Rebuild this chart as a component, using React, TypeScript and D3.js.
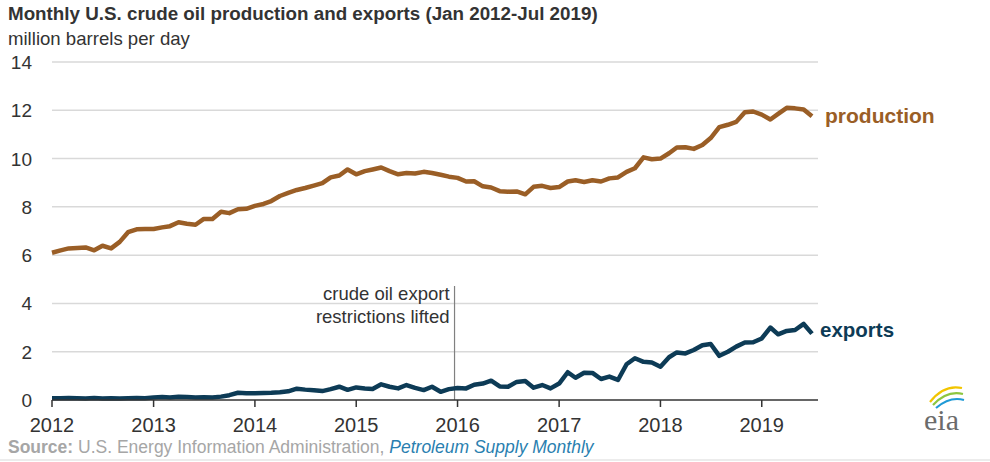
import * as d3 from "d3";

const W = 990;
const H = 462;
const FONT = "'Liberation Sans', Arial, Helvetica, sans-serif";

const START = new Date(2012, 0, 1);
const END = new Date(2019, 6, 1);
const months = d3.timeMonth.range(START, new Date(2019, 7, 1)); // Jan 2012 - Jul 2019

const production = [
  6.1, 6.2, 6.28, 6.3, 6.32, 6.2, 6.39, 6.28, 6.55, 6.95, 7.07, 7.08,
  7.08, 7.15, 7.2, 7.36, 7.3, 7.26, 7.5, 7.5, 7.8, 7.74, 7.9, 7.92,
  8.04, 8.12, 8.24, 8.45, 8.58, 8.7, 8.78, 8.88, 8.98, 9.22, 9.3, 9.55,
  9.35, 9.48, 9.55, 9.63, 9.48, 9.35, 9.4, 9.38, 9.45, 9.4, 9.33, 9.25,
  9.2, 9.05, 9.06, 8.85, 8.8, 8.65, 8.63, 8.64, 8.52, 8.83, 8.87, 8.78,
  8.82, 9.05, 9.1, 9.03, 9.1, 9.05, 9.18, 9.22, 9.45, 9.6, 10.05, 9.97,
  10.0, 10.22, 10.46, 10.47, 10.4, 10.56, 10.85, 11.3, 11.4, 11.52, 11.92, 11.95,
  11.82, 11.62, 11.85, 12.1, 12.08, 12.03, 11.75,
];

const exportsData = [
  0.07, 0.07, 0.08, 0.07, 0.06, 0.08, 0.06, 0.07, 0.06, 0.07, 0.08, 0.07,
  0.1, 0.12, 0.1, 0.13, 0.12, 0.1, 0.11, 0.1, 0.14, 0.2, 0.3, 0.28,
  0.28, 0.29, 0.3, 0.32, 0.36, 0.47, 0.43, 0.4, 0.37, 0.45, 0.55, 0.42,
  0.52, 0.48, 0.46, 0.65, 0.55, 0.48, 0.62, 0.5, 0.41, 0.55, 0.34, 0.45,
  0.5, 0.48, 0.63, 0.68, 0.8, 0.56, 0.55, 0.75, 0.79, 0.51, 0.62, 0.48,
  0.68, 1.15, 0.92, 1.13, 1.12, 0.87, 0.97, 0.83, 1.48, 1.73, 1.58, 1.55,
  1.38, 1.77, 1.97, 1.93, 2.07, 2.27, 2.32, 1.83, 2.0, 2.21, 2.38, 2.39,
  2.55, 3.0, 2.72, 2.86, 2.9, 3.15, 2.75,
];

const yTicks = [0, 2, 4, 6, 8, 10, 12, 14];
const yearTicks = [2012, 2013, 2014, 2015, 2016, 2017, 2018, 2019];

const PROD_COLOR = "#9a5e26";
const EXP_COLOR = "#0d3b56";
const TEXT = "#333333";

const x = d3.scaleTime().domain([START, END]).range([52, 812]);
const y = d3.scaleLinear().domain([0, 14]).range([400, 62]);

const line = d3
  .line<number>()
  .x((_, i) => x(months[i]))
  .y((d) => y(d));

export default function App() {
  const axisRight = 818;
  const liftX = x(new Date(2016, 0, 1)) - 3;
  return (
    <svg
      width={W}
      height={H}
      style={{ position: "absolute", left: 0, top: 0, background: "#fff" }}
      fontFamily={FONT}
    >
      <text x={8} y={20} fontSize={18.8} fontWeight="bold" fill={TEXT}>
        Monthly U.S. crude oil production and exports (Jan 2012-Jul 2019)
      </text>
      <text x={8} y={45} fontSize={18.6} fill={TEXT}>
        million barrels per day
      </text>

      {/* gridlines + y labels */}
      {yTicks.map((t) => (
        <g key={t}>
          {t > 0 && (
            <line x1={52} x2={axisRight} y1={y(t)} y2={y(t)} stroke="#d9d9d9" strokeWidth={1.5} />
          )}
          <text x={32} y={y(t) + 7} fontSize={19} textAnchor="end" fill={TEXT}>
            {t}
          </text>
        </g>
      ))}

      {/* annotation */}
      <line x1={liftX} x2={liftX} y1={286} y2={400} stroke="#808080" strokeWidth={1.2} />
      <text x={liftX - 5} y={300} fontSize={18.5} textAnchor="end" fill={TEXT}>
        crude oil export
      </text>
      <text x={liftX - 5} y={323} fontSize={18.5} textAnchor="end" fill={TEXT}>
        restrictions lifted
      </text>

      {/* lines */}
      <path d={line(production) ?? ""} fill="none" stroke={PROD_COLOR} strokeWidth={4.5} strokeLinejoin="round" />
      <path d={line(exportsData) ?? ""} fill="none" stroke={EXP_COLOR} strokeWidth={4.5} strokeLinejoin="round" />

      {/* x axis */}
      <line x1={52} x2={axisRight} y1={400} y2={400} stroke="#333" strokeWidth={1.5} />
      {yearTicks.map((yr) => {
        const px = x(new Date(yr, 0, 1));
        return (
          <g key={yr}>
            <line x1={px} x2={px} y1={400} y2={407} stroke="#333" strokeWidth={1.5} />
            <text x={px} y={432} fontSize={20} textAnchor="middle" fill={TEXT}>
              {yr}
            </text>
          </g>
        );
      })}

      <text x={825} y={123} fontSize={21} fontWeight="bold" fill={PROD_COLOR}>
        production
      </text>
      <text x={820} y={337} fontSize={20.5} fontWeight="bold" fill={EXP_COLOR}>
        exports
      </text>

      {/* source */}
      <text x={8} y={453} fontSize={17.5} fill="#a6a6a6">
        <tspan fontWeight="bold">Source:</tspan>
        <tspan> U.S. Energy Information Administration, </tspan>
        <tspan fill="#2a7fb0" fontStyle="italic">Petroleum Supply Monthly</tspan>
      </text>
      <line x1={0} x2={W} y1={460} y2={460} stroke="#d9d9d9" strokeWidth={1} />

      {/* eia logo */}
      <g>
        <path d="M 930 402 Q 944 384 962 388" fill="none" stroke="#f2c500" strokeWidth={2.2} />
        <path d="M 933 405 Q 947 390 963 394" fill="none" stroke="#8dc63f" strokeWidth={2.2} />
        <path d="M 936 408 Q 950 396 964 400" fill="none" stroke="#1f9ad6" strokeWidth={2.2} />
        <text x={924} y={430} fontSize={30} fontFamily="'Liberation Serif', serif" fill="#6b6b6b">
          eia
        </text>
      </g>
    </svg>
  );
}
